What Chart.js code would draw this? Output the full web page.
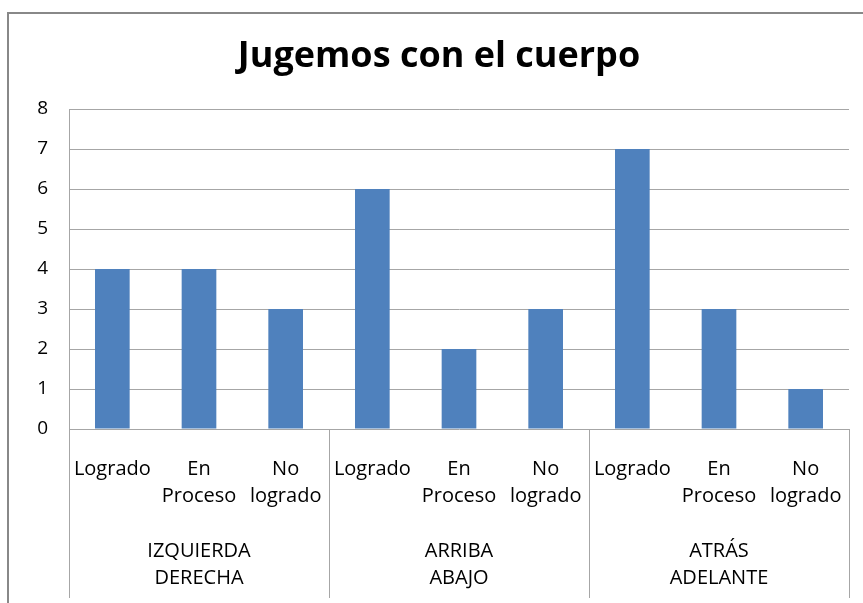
<!DOCTYPE html>
<html>
<head>
<meta charset="utf-8">
<title>Jugemos con el cuerpo</title>
<script src="https://cdn.jsdelivr.net/npm/chart.js@4.4.1/dist/chart.umd.min.js"></script>
<style>
  html, body { margin: 0; padding: 0; background: #fff; }
  #wrap { width: 863px; height: 603px; position: relative; }
</style>
</head>
<body>
<div id="wrap"><canvas id="myChart"></canvas></div>
<script>
// Data
const chartTitle = 'Jugemos con el cuerpo';
const categories = [
  ['Logrado'], ['En', 'Proceso'], ['No', 'logrado'],
  ['Logrado'], ['En', 'Proceso'], ['No', 'logrado'],
  ['Logrado'], ['En', 'Proceso'], ['No', 'logrado'],
];
const groups = [
  ['IZQUIERDA', 'DERECHA'],
  ['ARRIBA', 'ABAJO'],
  ['ATRÁS', 'ADELANTE'],
];
const values = [4, 4, 3, 6, 2, 3, 7, 3, 1];
const yTicks = [0, 1, 2, 3, 4, 5, 6, 7, 8];

const FONT = "'Open Sans', sans-serif";
const GRID = '#a6a6a6';

// outer frame, title, group labels / separators under the axis
const groupAxis = {
  id: 'groupAxis',
  beforeDraw(chart) {
    const c = chart.ctx;
    c.save();
    c.strokeStyle = '#888888';
    c.lineWidth = 2;
    c.strokeRect(8, 13, 1000, 1000);
    c.fillStyle = '#000';
    c.font = 'bold 36px ' + FONT;
    c.textAlign = 'center';
    c.textBaseline = 'middle';
    c.fillText(chartTitle, 439, 57);
    c.restore();
  },
  afterDraw(chart) {
    const c = chart.ctx;
    const x = chart.scales.x;
    const area = chart.chartArea;
    const per = categories.length / groups.length;
    c.save();
    c.strokeStyle = GRID;
    c.lineWidth = 1;
    for (let i = 0; i <= groups.length; i++) {
      const px = Math.round(x.getPixelForValue(i * per - 0.5)) + 0.5;
      c.beginPath();
      c.moveTo(px, area.bottom);
      c.lineTo(px, 598);
      c.stroke();
    }
    c.fillStyle = '#000';
    c.font = '20px ' + FONT;
    c.textAlign = 'center';
    c.textBaseline = 'middle';
    groups.forEach((g, i) => {
      const cx = x.getPixelForValue(i * per + (per - 1) / 2);
      g.forEach((line, j) => {
        c.fillText(line, cx, 551 + j * 27);
      });
    });
    c.restore();
  },
};

const ctx = document.getElementById('myChart').getContext('2d');
const myChart = new Chart(ctx, {
  type: 'bar',
  data: {
    labels: categories,
    datasets: [
      {
        data: values,
        backgroundColor: '#4f81bd',
        barPercentage: 0.4,
        categoryPercentage: 1,
      },
    ],
  },
  options: {
    responsive: true,
    maintainAspectRatio: false,
    animation: false,
    layout: {
      padding: { left: 0, right: 14, top: 109, bottom: 0 },
    },
    scales: {
      x: {
        grid: { display: false },
        border: { display: false },
        ticks: {
          color: '#000',
          padding: 19,
          maxRotation: 0,
          autoSkip: false,
          font: { family: FONT, size: 20, lineHeight: 1.35 },
        },
        afterFit: function (scale) {
          scale.height = 174;
        },
      },
      y: {
        min: 0,
        max: 8,
        grid: { color: GRID, drawTicks: false },
        border: { color: GRID },
        afterBuildTicks: function (scale) {
          scale.ticks = yTicks.map((v) => ({ value: v }));
        },
        ticks: {
          color: '#000',
          padding: 21,
          font: { family: FONT, size: 19 },
        },
        afterFit: function (scale) {
          scale.width = 69;
        },
      },
    },
    plugins: {
      legend: { display: false },
      tooltip: { enabled: false },
      title: { display: false },
    },
  },
  plugins: [groupAxis],
});
</script>
</body>
</html>
